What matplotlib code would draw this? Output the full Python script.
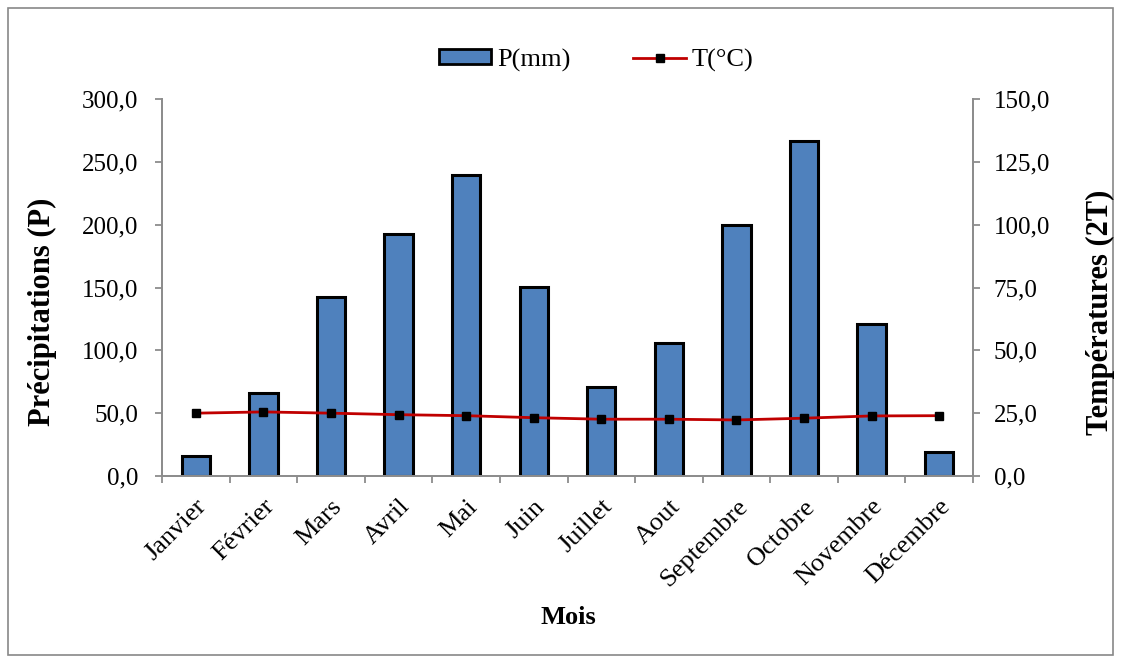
import matplotlib
matplotlib.use("Agg")
import matplotlib.pyplot as plt
from matplotlib.ticker import FuncFormatter, FixedLocator
from matplotlib.lines import Line2D
from matplotlib.patches import Patch, Rectangle
import numpy as np

plt.rcParams['font.family'] = ['Liberation Serif', 'DejaVu Serif']

months = ["Janvier", "Février", "Mars", "Avril", "Mai", "Juin", "Juillet",
          "Aout", "Septembre", "Octobre", "Novembre", "Décembre"]
precip = [15.9, 66.3, 142.7, 192.6, 239.5, 150.7, 71.1, 106.1, 199.5, 266.6, 121.0, 18.9]
temp = [25.0, 25.5, 25.0, 24.4, 24.0, 23.2, 22.6, 22.6, 22.3, 23.0, 23.9, 24.0]
left_ticks = [0, 50, 100, 150, 200, 250, 300]
right_ticks = [0, 25, 50, 75, 100, 125, 150]

W, H = 1121, 662
fig = plt.figure(figsize=(W / 100, H / 100), dpi=100)
ax = fig.add_axes([162 / W, 1 - 476 / H, (973 - 162) / W, (476 - 99) / H])
ax2 = ax.twinx()

x = np.arange(len(months))
ax.bar(x, precip, width=0.42, color="#4F81BD", edgecolor="black", linewidth=2.2, zorder=2)
ax2.plot(x, temp, color="#C00000", linewidth=2, marker="s", markersize=6,
         markerfacecolor="black", markeredgecolor="black", zorder=3)

fmt = FuncFormatter(lambda v, p: f"{v:.1f}".replace(".", ","))
gray = "#8C8C8C"
for a in (ax, ax2):
    a.set_xlim(-0.5, len(months) - 0.5)
    a.spines["top"].set_visible(False)
    for s in ("left", "right", "bottom"):
        a.spines[s].set_color(gray)
        a.spines[s].set_linewidth(1.3)
    a.yaxis.set_major_formatter(fmt)

ax.set_ylim(0, 300)
ax.set_yticks(left_ticks)
ax2.set_ylim(0, 150)
ax2.set_yticks(right_ticks)

ax.set_xticks(x)
ax.set_xticklabels(months, rotation=45, ha="right", va="top", rotation_mode="anchor", fontsize=19)
ax.xaxis.set_minor_locator(FixedLocator(np.arange(-0.5, len(months) + 0.5, 1)))
ax.tick_params(axis="x", which="major", length=0, pad=14)
ax.tick_params(axis="x", which="minor", length=5, width=1.3, color=gray, direction="out")
ax.tick_params(axis="y", length=5, width=1.3, color=gray, direction="out", labelsize=18, pad=12)
ax2.tick_params(axis="y", length=5, width=1.3, color=gray, direction="out", labelsize=18, pad=10)

fig.text(42 / W, 1 - 312 / H, "Précipitations (P)", fontsize=22, fontweight="bold",
         rotation=90, ha="center", va="center")
fig.text(1100 / W, 1 - 312 / H, "Températures (2T)", fontsize=22, fontweight="bold",
         rotation=90, ha="center", va="center")
fig.text(568 / W, 1 - 618 / H, "Mois", fontsize=19, fontweight="bold", ha="center", va="center")

handles = [Patch(facecolor="#4F81BD", edgecolor="black", linewidth=2),
           Line2D([0], [0], color="#C00000", linewidth=2, marker="s", markersize=6,
                  markerfacecolor="black", markeredgecolor="black")]
fig.legend(handles, ["P(mm)", "T(°C)"], loc="center", bbox_to_anchor=(596 / W, 1 - 60 / H),
           ncol=2, frameon=False, fontsize=19, handlelength=2.0, handletextpad=0.2,
           columnspacing=2.4, handleheight=0.5)

fig.patches.append(Rectangle((8 / W, 1 - 655 / H), (1113 - 8) / W, (655 - 8) / H,
                             transform=fig.transFigure, fill=False, edgecolor="#888888", linewidth=1.2))

fig.savefig("out.png", dpi=100)
